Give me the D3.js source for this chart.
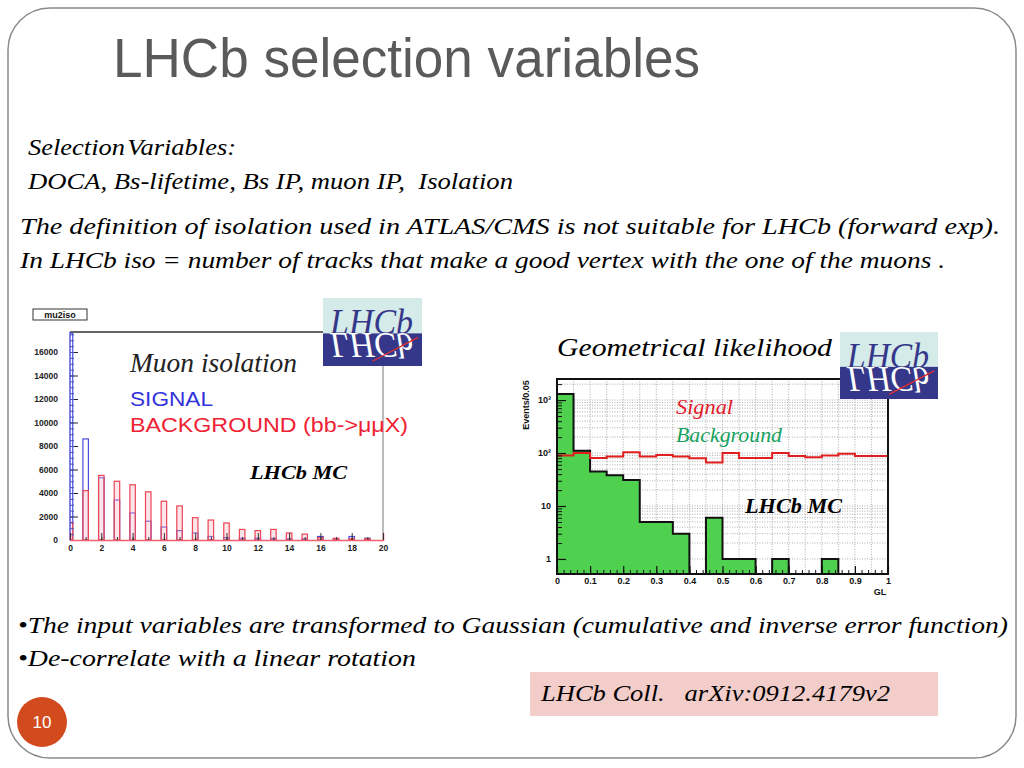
<!DOCTYPE html>
<html><head><meta charset="utf-8">
<script src="https://cdn.jsdelivr.net/npm/d3@7"></script>
<style>body{margin:0;background:#fff}svg{display:block}text{white-space:pre}</style>
</head><body><svg id="s" width="1024" height="768"></svg>
<script>
// ---------- data ----------
const isoBins = [0,1,2,3,4,5,6,7,8,9,10,11,12,13,14,15,16,17,18,19];
const isoSignal = [17600,8600,5300,3400,2300,1600,1100,800,600,300,200,150,150,120,100,100,300,100,300,150];
const isoBackground = [1500,4200,5500,5000,4700,4100,3300,2900,1900,1700,1450,900,800,900,600,500,200,150,100,100];
const isoYTicks = [0,2000,4000,6000,8000,10000,12000,14000,16000];
const isoXTicks = [0,2,4,6,8,10,12,14,16,18,20];

const glBinLow = [0,0.05,0.1,0.15,0.2,0.25,0.3,0.35,0.4,0.45,0.5,0.55,0.6,0.65,0.7,0.75,0.8,0.85,0.9,0.95];
const glSignal = [90,100,81,86,103,86,92,86,80,66,100,81,81,100,88,83,90,97,88,88];
const glBackground = [1300,110,45,38,31,5,5,3,0,6,1,1,0,1,0,0,1,0,0,0];
const glXTicks = [0,0.1,0.2,0.3,0.4,0.5,0.6,0.7,0.8,0.9,1];
const glXLabels = ["0","0.1","0.2","0.3","0.4","0.5","0.6","0.7","0.8","0.9","1"];
const glYTicks = [1,10,100,1000];
const glBinWidth = 0.05;

const svg = d3.select("#s");
const SERIF = "'Liberation Serif','DejaVu Serif',serif";
const SANS = "'Liberation Sans',Arial,sans-serif";

// ---------- slide frame ----------
svg.append("rect").attr("x",8).attr("y",8).attr("width",1008).attr("height",750)
  .attr("rx",42).attr("fill","#fff").attr("stroke","#8a8a8a").attr("stroke-width",1.5);

function txt(t, x, y, o) {
  const e = svg.append("text").attr("x",x).attr("y",y).text(t)
    .attr("font-family", o.family || SERIF).attr("font-size", o.size)
    .attr("fill", o.fill || "#000");
  if (o.italic) e.attr("font-style","italic");
  if (o.weight) e.attr("font-weight", o.weight);
  if (o.len) e.attr("textLength", o.len).attr("lengthAdjust","spacingAndGlyphs");
  if (o.anchor) e.attr("text-anchor", o.anchor);
  return e;
}

txt("LHCb selection variables", 113, 77, {family:SANS, size:56, fill:"#5a5a5a", len:587});
txt("Selection\u200aVariables:", 28, 155, {size:23, italic:true, len:208});
txt("DOCA, Bs-lifetime, Bs IP, muon IP,\u00a0\u00a0Isolation", 28, 189, {size:23, italic:true, len:485});
txt("The definition of isolation used in ATLAS/CMS is not suitable for LHCb (forward exp).", 20, 234, {size:24, italic:true, len:980});
txt("In LHCb iso = number of tracks that make a good vertex with the one of the muons .", 20, 268, {size:24, italic:true, len:925});
txt("•The input variables are transformed to Gaussian (cumulative and inverse error function)", 18, 633, {size:24, italic:true, len:990});
txt("•De-correlate with a linear rotation", 18, 666, {size:24, italic:true, len:398});

svg.append("rect").attr("x",530).attr("y",672).attr("width",408).attr("height",44).attr("fill","#f3cdc9");
txt("LHCb Coll.\u00a0\u00a0\u00a0arXiv:0912.4179v2", 541, 701, {size:23, italic:true, len:349});

svg.append("circle").attr("cx",42).attr("cy",722).attr("r",25).attr("fill","#d24b1e");
txt("10", 42, 728, {family:SANS, size:17, fill:"#fff", anchor:"middle"});

// ---------- left chart: muon isolation ----------
const xL = d3.scaleLinear().domain([0,20]).range([70,383]);
const yL = d3.scaleLinear().domain([0,16000]).range([540,352]);
const L = {x0:70, x1:383, y0:332, y1:540};

svg.append("defs").append("clipPath").attr("id","clipL").append("rect")
  .attr("x",L.x0).attr("y",L.y0).attr("width",L.x1-L.x0).attr("height",L.y1-L.y0);

const gL = svg.append("g");
const plotL = gL.append("g").attr("clip-path","url(#clipL)");
const bw = xL(0.35) - xL(0);

plotL.selectAll("rect.sig").data(isoBins).join("rect").attr("class","sig")
  .attr("x", d => xL(d) - bw/2).attr("width", bw)
  .attr("y", d => yL(isoSignal[d])).attr("height", d => yL(0) - yL(isoSignal[d]))
  .attr("fill","none").attr("stroke","#4a4ae0").attr("stroke-width",1.2);
plotL.selectAll("rect.bkg").data(isoBins).join("rect").attr("class","bkg")
  .attr("x", d => xL(d) - bw/2).attr("width", bw)
  .attr("y", d => yL(isoBackground[d])).attr("height", d => yL(0) - yL(isoBackground[d]))
  .attr("fill","#f7b8c0").attr("fill-opacity",0.35).attr("stroke","#ee4455").attr("stroke-width",1.2);

// frame
gL.append("line").attr("x1",L.x0).attr("x2",L.x1).attr("y1",L.y0).attr("y2",L.y0).attr("stroke","#666").attr("stroke-width",2);
gL.append("line").attr("x1",L.x1).attr("x2",L.x1).attr("y1",L.y0).attr("y2",L.y1).attr("stroke","#777").attr("stroke-width",1);
gL.append("line").attr("x1",L.x0).attr("x2",L.x0).attr("y1",L.y0).attr("y2",L.y1).attr("stroke","#5555dd").attr("stroke-width",1.5);

// y axis (ticks inward)
const yAxL = gL.append("g").attr("transform",`translate(${L.x0},0)`)
  .call(d3.axisLeft(yL).tickValues(isoYTicks).tickSize(-8).tickPadding(12).tickFormat(d3.format("d")));
yAxL.select(".domain").remove();
yAxL.selectAll(".tick line").attr("stroke","#223");
yAxL.selectAll("text").attr("font-family",SANS).attr("font-size",8.5).attr("font-weight","bold").attr("fill","#222");
const yMinorL = gL.append("g").attr("transform",`translate(${L.x0},0)`)
  .call(d3.axisLeft(d3.scaleLinear().domain([0,17600]).range([yL(0), yL(17600)])).ticks(44).tickSize(-4).tickFormat(""));
yMinorL.select(".domain").remove();
yMinorL.selectAll(".tick line").attr("stroke","#4455bb");

// x axis
const xAxL = gL.append("g").attr("transform",`translate(0,${L.y1})`)
  .call(d3.axisBottom(xL).tickValues(isoXTicks).tickSize(-7).tickPadding(5));
xAxL.select(".domain").attr("stroke","#f06070").attr("stroke-width",1.5);
xAxL.selectAll(".tick line").attr("stroke","#333");
xAxL.selectAll("text").attr("font-family",SANS).attr("font-size",8.5).attr("font-weight","bold").attr("fill","#222");
const xMinorL = gL.append("g").attr("transform",`translate(0,${L.y1})`)
  .call(d3.axisBottom(xL).ticks(20).tickSize(-3).tickFormat(""));
xMinorL.select(".domain").remove();
xMinorL.selectAll(".tick line").attr("stroke","#333");

// stat label box
svg.append("rect").attr("x",33).attr("y",309).attr("width",54).attr("height",11).attr("fill","#fff").attr("stroke","#333").attr("stroke-width",1);
txt("mu2iso", 60, 318, {family:SANS, size:9, weight:"bold", anchor:"middle", fill:"#111"});

txt("Muon isolation", 130, 372, {size:27, italic:true, fill:"#222", len:167});
txt("SIGNAL", 130, 406, {family:SANS, size:21, fill:"#3333dd", len:83});
txt("BACKGROUND (bb->μμX)", 130, 432, {family:SANS, size:21, fill:"#ee2233", len:278});
txt("LHCb MC", 250, 479, {size:19, italic:true, weight:"bold", len:97});

// ---------- logo ----------
function logo(x, y, w, h) {
  const g = svg.append("g");
  const mid = y + h*0.52;
  g.append("rect").attr("x",x).attr("y",y).attr("width",w).attr("height",mid-y).attr("fill","#d5ebe9");
  g.append("rect").attr("x",x).attr("y",mid).attr("width",w).attr("height",y+h-mid).attr("fill","#35388a");
  g.append("text").attr("x",x+7).attr("y",mid+1).text("LHCb")
    .attr("font-family",SERIF).attr("font-style","italic").attr("font-size",36)
    .attr("fill","#35388a").attr("textLength",w-16).attr("lengthAdjust","spacingAndGlyphs");
  g.append("text").attr("transform",`translate(${x+7},${2*mid}) scale(1,-1)`).attr("x",0).attr("y",mid)
    .text("LHCb").attr("font-family",SERIF).attr("font-style","italic").attr("font-size",36)
    .attr("fill","#ffffff").attr("textLength",w-16).attr("lengthAdjust","spacingAndGlyphs");
  g.append("line").attr("x1",x+w*0.5).attr("y1",y+h*0.93).attr("x2",x+w*0.96).attr("y2",y+h*0.58)
    .attr("stroke","#e03030").attr("stroke-width",1.3);
}
logo(323, 298, 99, 68);

// ---------- right chart: geometrical likelihood ----------
const xR = d3.scaleLinear().domain([0,1]).range([557,888]);
const yR = d3.scaleLog().domain([0.52,2500]).range([574,379]);
const R = {x0:557, x1:888, y0:379, y1:574};
const gR = svg.append("g");

// grid
const gridY = [];
glYTicks.forEach(t => { for (let k=1;k<10;k++) { const v=t*k; if (v<2500) gridY.push(v); } });
gR.selectAll("line.gy").data(gridY).join("line").attr("class","gy")
  .attr("x1",R.x0).attr("x2",R.x1).attr("y1",d=>yR(d)).attr("y2",d=>yR(d))
  .attr("stroke","#9a9a9a").attr("stroke-width",0.8).attr("stroke-dasharray","1,1.5");
gR.selectAll("line.gx").data(glBinLow.slice(1)).join("line").attr("class","gx")
  .attr("x1",d=>xR(d)).attr("x2",d=>xR(d)).attr("y1",R.y0).attr("y2",R.y1)
  .attr("stroke","#9a9a9a").attr("stroke-width",0.8).attr("stroke-dasharray","1,1.5");

// background histogram (green filled)
const bottom = yR.domain()[0];
const vb = v => v > 0 ? v : bottom;
const bgPts = [[0,bottom]];
glBinLow.forEach((lo,i) => { bgPts.push([lo, vb(glBackground[i])]); bgPts.push([lo+glBinWidth, vb(glBackground[i])]); });
bgPts.push([1,bottom]);
const lineR = d3.line().x(d=>xR(d[0])).y(d=>yR(d[1]));
gR.append("path").attr("d", lineR(bgPts)+"Z").attr("fill","#4fd04f").attr("stroke","#111").attr("stroke-width",2);

// signal histogram (red step line)
const sgPts = [];
glBinLow.forEach((lo,i) => { sgPts.push([lo, glSignal[i]]); sgPts.push([lo+glBinWidth, glSignal[i]]); });
gR.append("path").attr("d", lineR(sgPts)).attr("fill","none").attr("stroke","#e02020").attr("stroke-width",2);

// frame
gR.append("rect").attr("x",R.x0).attr("y",R.y0).attr("width",R.x1-R.x0).attr("height",R.y1-R.y0)
  .attr("fill","none").attr("stroke","#111").attr("stroke-width",2);

// x axis
const xAxR = gR.append("g").attr("transform",`translate(0,${R.y1})`)
  .call(d3.axisBottom(xR).tickValues(glXTicks).tickSize(-8).tickPadding(4).tickFormat((d,i)=>glXLabels[i]));
xAxR.select(".domain").remove();
xAxR.selectAll(".tick line").attr("stroke","#111").attr("stroke-width",1.2);
xAxR.selectAll("text").attr("font-family",SANS).attr("font-size",9).attr("font-weight","bold").attr("fill","#111");
const xMinR = gR.append("g").attr("transform",`translate(0,${R.y1})`)
  .call(d3.axisBottom(xR).ticks(50).tickSize(-4).tickFormat(""));
xMinR.select(".domain").remove();
xMinR.selectAll(".tick line").attr("stroke","#111");

// y axis
const supMap = {1:"1",10:"10",100:"10²",1000:"10³"};
const yAxR = gR.append("g").attr("transform",`translate(${R.x0},0)`)
  .call(d3.axisLeft(yR).tickValues(glYTicks).tickSize(-9).tickPadding(6).tickFormat(d=>supMap[d]));
yAxR.select(".domain").remove();
yAxR.selectAll(".tick line").attr("stroke","#111").attr("stroke-width",1.2);
yAxR.selectAll("text").attr("font-family",SANS).attr("font-size",9).attr("font-weight","bold").attr("fill","#111");
const yMinR = gR.append("g").attr("transform",`translate(${R.x0},0)`)
  .call(d3.axisLeft(yR).tickValues(gridY.filter(v=>!glYTicks.includes(v))).tickSize(-5).tickFormat(""));
yMinR.select(".domain").remove();
yMinR.selectAll(".tick line").attr("stroke","#111");

svg.append("text").attr("transform","translate(529,405) rotate(-90)").attr("text-anchor","middle")
  .text("Events/0.05").attr("font-family",SANS).attr("font-size",9).attr("font-weight","bold").attr("fill","#111");
txt("GL", 880, 595, {family:SANS, size:9, weight:"bold", anchor:"middle", fill:"#111"});

txt("Geometrical likelihood", 557, 356, {size:25, italic:true, len:275});
txt("Signal", 676, 414, {size:20, italic:true, fill:"#e01b2b", len:57});
txt("Background", 676, 442, {size:20, italic:true, fill:"#18a060", len:106});
txt("LHCb MC", 745, 513, {size:20, italic:true, weight:"bold", len:97});

logo(840, 332, 98, 67);
</script></body></html>
